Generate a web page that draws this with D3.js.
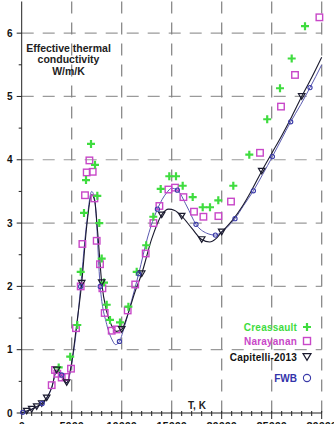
<!DOCTYPE html>
<html>
<head>
<meta charset="utf-8">
<script src="https://cdn.jsdelivr.net/npm/d3@7"></script>
<style>
  html, body { margin: 0; padding: 0; background: #fff; }
  svg { display: block; font-family: Arial, "Liberation Sans", sans-serif; }
</style>
</head>
<body>
<svg id="chart" width="334" height="424"></svg>
<script>
// Effective thermal conductivity vs temperature

// Model curves (T in K, value in W/m/K)
const capitelliCurveT = [0, 500, 1000, 1500, 2000, 2500, 3000, 3500, 4000, 4500, 5000, 5500, 6000, 6500, 7000, 7300, 7600, 8000, 8500, 9000, 9500, 10000, 10600, 11300, 12000, 13000, 14000, 14700, 15300, 16000, 17000, 18000, 18800, 19400, 20000, 21000, 22000, 23000, 24000, 25000, 26000, 27000, 28000, 29000, 30000];
const capitelliCurveV = [0, 0.03, 0.06, 0.1, 0.15, 0.24, 0.4, 0.68, 0.6, 0.48, 0.8, 1.4, 2.05, 2.95, 3.45, 3.35, 2.85, 2.06, 1.6, 1.38, 1.29, 1.32, 1.55, 1.9, 2.2, 2.75, 3.13, 3.22, 3.2, 3.11, 2.92, 2.74, 2.7, 2.75, 2.86, 3.03, 3.25, 3.52, 3.82, 4.1, 4.38, 4.68, 5.0, 5.3, 5.62];

const fwbCurveT = [0, 1000, 2050, 2500, 3000, 3500, 4000, 4500, 5000, 5500, 5900, 6500, 7000, 7300, 7850, 8500, 9000, 9400, 9770, 10300, 11000, 11700, 12600, 13570, 14500, 15000, 15570, 16500, 17430, 18500, 19370, 20300, 21330, 22200, 23170, 24100, 25070, 26000, 26900, 27900, 28830, 30000];
const fwbCurveV = [0, 0.06, 0.15, 0.23, 0.4, 0.66, 0.6, 0.46, 0.78, 1.35, 2.0, 3.0, 3.5, 3.38, 2.0, 1.4, 1.17, 1.08, 1.13, 1.38, 1.78, 2.2, 2.78, 3.22, 3.48, 3.55, 3.52, 3.27, 2.98, 2.84, 2.81, 2.9, 3.07, 3.28, 3.51, 3.77, 4.05, 4.33, 4.6, 4.87, 5.14, 5.5];

// Point series
const creassaultT = [3700, 4850, 5560, 5900, 6230, 6430, 6930, 7330, 7560, 7760, 8000, 8230, 8500, 8830, 9830, 10670, 11500, 12450, 13160, 13900, 14760, 15430, 16100, 17100, 18100, 18830, 19660, 21160, 22760, 24550, 25830, 27000, 28330];
const creassaultV = [0.72, 0.89, 1.39, 2.23, 3.16, 3.68, 4.25, 3.92, 3.43, 3.0, 2.44, 2.06, 1.71, 1.47, 1.43, 1.68, 2.23, 2.65, 3.1, 3.54, 3.74, 3.74, 3.59, 3.41, 3.25, 3.25, 3.36, 3.59, 4.08, 4.64, 5.13, 5.6, 6.11];

const narayananT = [3000, 3330, 3560, 4000, 4400, 4930, 5430, 5900, 6070, 6330, 6500, 6770, 7100, 7270, 7500, 7830, 8070, 8300, 9000, 9500, 10600, 11350, 12400, 13170, 13770, 14670, 15330, 16170, 17230, 18170, 19670, 20930, 23830, 25930, 27330, 29770];
const narayananV = [0.44, 0.68, 0.62, 0.56, 0.57, 0.7, 1.34, 2.0, 2.67, 3.44, 3.8, 3.99, 3.81, 3.39, 2.72, 2.35, 1.97, 1.58, 1.3, 1.32, 1.62, 2.03, 2.52, 3.0, 3.27, 3.53, 3.56, 3.41, 3.18, 3.1, 3.11, 3.34, 4.11, 4.84, 5.34, 6.25];

const capitelliT = [500, 1000, 1500, 2000, 2500, 3500, 4500, 6000, 8000, 10000, 12000, 14000, 16000, 18000, 20000, 24000, 28000];
const capitelliV = [0.03, 0.06, 0.1, 0.15, 0.24, 0.68, 0.48, 2.05, 2.06, 1.32, 2.2, 3.13, 3.11, 2.74, 2.86, 3.82, 5.0];

const fwbT = [100, 2050, 4000, 5900, 7850, 9770, 11700, 13570, 15570, 17430, 19370, 21330, 23170, 25070, 26900, 28830];
const fwbV = [0.01, 0.15, 0.6, 2.0, 2.0, 1.13, 2.2, 3.22, 3.52, 2.98, 2.81, 3.07, 3.51, 4.05, 4.6, 5.14];

// Axis ticks
const xTicks = [0, 5000, 10000, 15000, 20000, 25000, 30000];
const xMinorTicks = d3.range(0, 30001, 1000);
const yTicks = [0, 1, 2, 3, 4, 5, 6];
const yMinorTicks = d3.range(0.5, 6.5, 1);

const legendNames = ["Creassault", "Narayanan", "Capitelli-2013", "FWB"];

const col = {
  green: "#3fdc3f",
  magenta: "#c847c8",
  black: "#1a1a2e",
  fwb: "#3a3aa8",
  grid: "#9a9a9a",
  vgrid: "#808080"
};

const svg = d3.select("#chart");
const x = d3.scaleLinear().domain([0, 30000]).range([21.7, 321.7]);
const y = d3.scaleLinear().domain([0, 6.5]).range([413, 1.5]);

// Grid
const grid = svg.append("g");
grid.selectAll("line.h").data(yTicks.filter(d => d > 0)).join("line")
  .attr("x1", x(0)).attr("x2", x(30000))
  .attr("y1", d => y(d)).attr("y2", d => y(d))
  .attr("stroke", col.grid).attr("stroke-width", 1.2)
  .attr("stroke-dasharray", "12,9");
grid.selectAll("line.v").data(xTicks.filter(d => d > 0)).join("line")
  .attr("x1", d => x(d)).attr("x2", d => x(d))
  .attr("y1", y(6.5)).attr("y2", y(0))
  .attr("stroke", col.vgrid).attr("stroke-width", 1.2)
  .attr("stroke-dasharray", "12,9");

// Axes
const axes = svg.append("g").attr("stroke", "#222").attr("stroke-width", 1);
axes.append("line").attr("x1", x(0)).attr("x2", x(0)).attr("y1", y(6.5)).attr("y2", y(0));
axes.append("line").attr("x1", x(0)).attr("x2", x(30000)).attr("y1", y(0)).attr("y2", y(0));
axes.selectAll("line.yt").data(yTicks).join("line")
  .attr("x1", x(0) - 5).attr("x2", x(0)).attr("y1", d => y(d)).attr("y2", d => y(d));
axes.selectAll("line.ym").data(yMinorTicks).join("line")
  .attr("x1", x(0) - 3).attr("x2", x(0)).attr("y1", d => y(d)).attr("y2", d => y(d));
axes.selectAll("line.xm").data(xMinorTicks).join("line")
  .attr("x1", d => x(d)).attr("x2", d => x(d))
  .attr("y1", y(0) - 2).attr("y2", d => y(0) + (d % 5000 === 0 ? 6 : 3));

// Tick labels (the x labels sit at the lower edge of the canvas)
svg.append("g").selectAll("text").data(yTicks).join("text")
  .attr("x", 12.5).attr("y", d => y(d) + 3.6)
  .attr("text-anchor", "end").attr("font-size", 10).attr("font-weight", "bold")
  .attr("fill", "#111").text(d => d);
svg.append("g").selectAll("text").data(xTicks).join("text")
  .attr("x", d => x(d)).attr("y", 429.5)
  .attr("text-anchor", "middle").attr("font-size", 11).attr("font-weight", "bold")
  .attr("fill", "#111").text(d => d);

// Axis titles
const yTitle = svg.append("text").attr("x", 68.5).attr("text-anchor", "middle")
  .attr("font-size", 10.5).attr("font-weight", "bold").attr("fill", "#222");
["Effective thermal", "conductivity", "W/m/K"].forEach((t, i) => {
  yTitle.append("tspan").attr("x", 68.5).attr("y", 51.5 + i * 11.7).text(t);
});
svg.append("text").attr("x", 197).attr("y", 408.5).attr("text-anchor", "middle")
  .attr("font-size", 10).attr("font-weight", "bold").attr("fill", "#222").text("T, K");

// Curves
const line = d3.line().x(d => x(d[0])).y(d => y(d[1])).curve(d3.curveMonotoneX);
svg.append("path").datum(d3.zip(fwbCurveT, fwbCurveV))
  .attr("d", line).attr("fill", "none").attr("stroke", "#5a5ab0").attr("stroke-width", 1);
svg.append("path").datum(d3.zip(capitelliCurveT, capitelliCurveV))
  .attr("d", line).attr("fill", "none").attr("stroke", col.black).attr("stroke-width", 1.1);

// Marker drawers
function square(g, cx, cy, s) {
  g.append("rect").attr("x", cx - s / 2).attr("y", cy - s / 2).attr("width", s).attr("height", s)
    .attr("fill", "none").attr("stroke", col.magenta).attr("stroke-width", 1.4);
}
function plus(g, cx, cy, s) {
  g.append("path").attr("d", `M${cx - s / 2},${cy}H${cx + s / 2}M${cx},${cy - s / 2}V${cy + s / 2}`)
    .attr("stroke", col.green).attr("stroke-width", 2.2).attr("fill", "none");
}
function tri(g, cx, cy, s) {
  const h = s * 0.85;
  g.append("path").attr("d", `M${cx - s / 2},${cy - h / 2}L${cx + s / 2},${cy - h / 2}L${cx},${cy + h / 2}Z`)
    .attr("fill", "none").attr("stroke", col.black).attr("stroke-width", 1.2);
}
function circ(g, cx, cy, r) {
  g.append("circle").attr("cx", cx).attr("cy", cy).attr("r", r)
    .attr("fill", "none").attr("stroke", col.fwb).attr("stroke-width", 1.1);
}

const marks = svg.append("g");
narayananT.forEach((t, i) => square(marks, x(t), y(narayananV[i]), 6.5));
creassaultT.forEach((t, i) => plus(marks, x(t), y(creassaultV[i]), 8));
capitelliT.forEach((t, i) => tri(marks, x(t), y(capitelliV[i]), 6.5));
fwbT.forEach((t, i) => circ(marks, x(t), y(fwbV[i]), 2.1));

// Legend
const legend = svg.append("g");
const legendY = [327, 341, 357, 378];
const legendColor = [col.green, col.magenta, "#111", "#3333aa"];
legendNames.forEach((n, i) => {
  legend.append("text").attr("x", 297).attr("y", legendY[i] + 3.6)
    .attr("text-anchor", "end").attr("font-size", 10).attr("font-weight", "bold")
    .attr("letter-spacing", i === 3 ? 0 : 0.2)
    .attr("fill", legendColor[i]).text(n);
});
plus(legend, 307, legendY[0], 8);
square(legend, 307, legendY[1], 7);
tri(legend, 307, legendY[2], 8);
circ(legend, 307, legendY[3], 3.6);
</script>
</body>
</html>
